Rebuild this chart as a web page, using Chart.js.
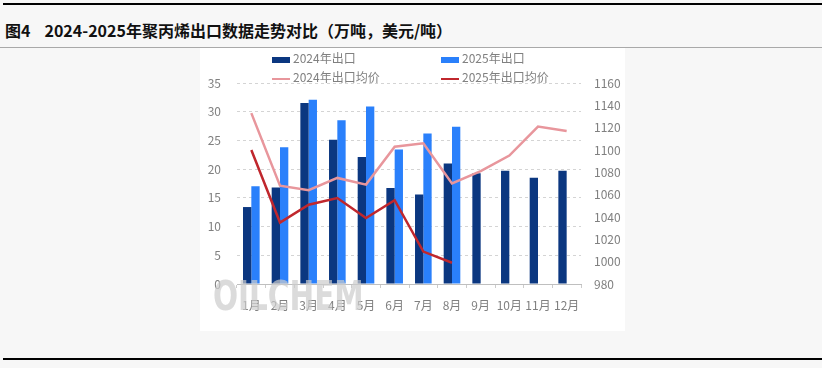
<!DOCTYPE html>
<html lang="zh">
  <head>
    <meta charset="UTF-8" />
    <title>2024-2025年聚丙烯出口数据走势对比</title>
    <script src="https://cdn.jsdelivr.net/npm/chart.js@4.4.0/dist/chart.umd.min.js"></script>
    <style>
      body {
        margin: 0;
        width: 822px;
        height: 368px;
        background: #f7f7f7;
        position: relative;
        overflow: hidden;
        font-family: "Noto Sans CJK SC", sans-serif;
      }
      .rule { position: absolute; left: 3px; width: 819px; height: 2px; background: #000; }
      .title {
        position: absolute; left: 5px; top: 18px;
        font-size: 16px; font-weight: bold; line-height: 24px; color: #111;
        white-space: pre;
      }
      .title span { margin-left: 14px; }
      .sep { position: absolute; left: 0; top: 47px; width: 822px; height: 1px; background: #a9a9a9; }
      .panel { position: absolute; left: 200px; top: 48px; width: 425px; height: 283px; background: #fff; }
      .legend { position: absolute; font-size: 12px; color: #808080; line-height: 16px; white-space: nowrap; }
      .legend i { display: inline-block; width: 18px; vertical-align: middle; margin-right: 3px; }
      .mark {
        position: absolute; left: 213px; top: 273px;
        font-family: "Liberation Sans Narrow", "DejaVu Sans Condensed", sans-serif;
        font-weight: bold; font-size: 40px; line-height: 46px; color: #cccccc; opacity: 0.7;
        transform: scaleX(0.82); transform-origin: left top;
        pointer-events: none;
      }
    </style>
  </head>
  <body>
    <div class="rule" style="top: 3px"></div>
    <div class="title">图4<span>2024-2025年聚丙烯出口数据走势对比（万吨，美元/吨）</span></div>
    <div class="sep"></div>
    <div class="panel">
      <canvas id="ppExport" width="425" height="283"></canvas>
    </div>
    <div class="legend" style="left: 272px; top: 50px"><i style="height: 6px; background: #0b3780"></i>2024年出口</div>
    <div class="legend" style="left: 441px; top: 50px"><i style="height: 6px; background: #2a80fb"></i>2025年出口</div>
    <div class="legend" style="left: 272px; top: 69px"><i style="height: 2px; background: #e8969c"></i>2024年出口均价</div>
    <div class="legend" style="left: 441px; top: 69px"><i style="height: 2px; background: #c0272d"></i>2025年出口均价</div>
    <div class="mark">OILCHEM</div>
    <div class="rule" style="top: 358px"></div>
  </body>
  <script>
    const months = ["1月", "2月", "3月", "4月", "5月", "6月", "7月", "8月", "9月", "10月", "11月", "12月"];
    const export2024 = [13.4, 16.8, 31.5, 25.1, 22.1, 16.7, 15.6, 21.0, 19.3, 19.7, 18.5, 19.7];
    const export2025 = [17.0, 23.8, 32.1, 28.5, 30.9, 23.4, 26.2, 27.4, null, null, null, null];
    const price2024 = [1133, 1068, 1064, 1075, 1069, 1103, 1106, 1070, 1081, 1095, 1121, 1117];
    const price2025 = [1100, 1035, 1051, 1057, 1039, 1055, 1009, 999, null, null, null, null];

    const tickFont = {family: "'Noto Sans CJK SC', sans-serif", size: 12};

    const ctx = document.getElementById("ppExport").getContext("2d");
    new Chart(ctx, {
      type: "bar",
      data: {
        labels: months,
        datasets: [
          {
            label: "2024年出口",
            data: export2024,
            backgroundColor: "#0b3780",
            yAxisID: "y",
            order: 2,
            categoryPercentage: 0.58,
            barPercentage: 1.0,
          },
          {
            label: "2025年出口",
            data: export2025,
            backgroundColor: "#2a80fb",
            yAxisID: "y",
            order: 2,
            categoryPercentage: 0.58,
            barPercentage: 1.0,
          },
          {
            type: "line",
            label: "2024年出口均价",
            data: price2024,
            borderColor: "#e8969c",
            borderWidth: 2.5,
            pointRadius: 0,
            yAxisID: "y1",
            order: 1,
          },
          {
            type: "line",
            label: "2025年出口均价",
            data: price2025,
            borderColor: "#c0272d",
            borderWidth: 2.5,
            pointRadius: 0,
            yAxisID: "y1",
            order: 0,
          },
        ],
      },
      options: {
        responsive: false,
        animation: false,
        layout: {padding: {top: 35, left: 0, right: 0, bottom: 0}},
        plugins: {legend: {display: false}, tooltip: {enabled: false}},
        scales: {
          x: {
            offset: true,
            grid: {offset: true, drawOnChartArea: false, tickLength: 4, color: "#cccccc"},
            border: {display: true, color: "#bfbfbf"},
            ticks: {color: "#808080", font: tickFont, padding: 10, maxRotation: 0},
            afterFit: (scale) => { scale.height = 47; },
          },
          y: {
            position: "left",
            min: 0,
            max: 35,
            ticks: {stepSize: 5, color: "#808080", font: tickFont, padding: 16},
            grid: {color: "#d4d4d4", drawTicks: false},
            border: {display: false, dash: [3, 3]},
            afterFit: (scale) => { scale.width = 37; },
          },
          y1: {
            position: "right",
            min: 980,
            max: 1160,
            ticks: {stepSize: 20, color: "#808080", font: tickFont, padding: 13, callback: (v) => String(v)},
            grid: {display: false, drawTicks: false},
            border: {display: false},
            afterFit: (scale) => { scale.width = 44; },
          },
        },
      },
    });
  </script>
</html>
